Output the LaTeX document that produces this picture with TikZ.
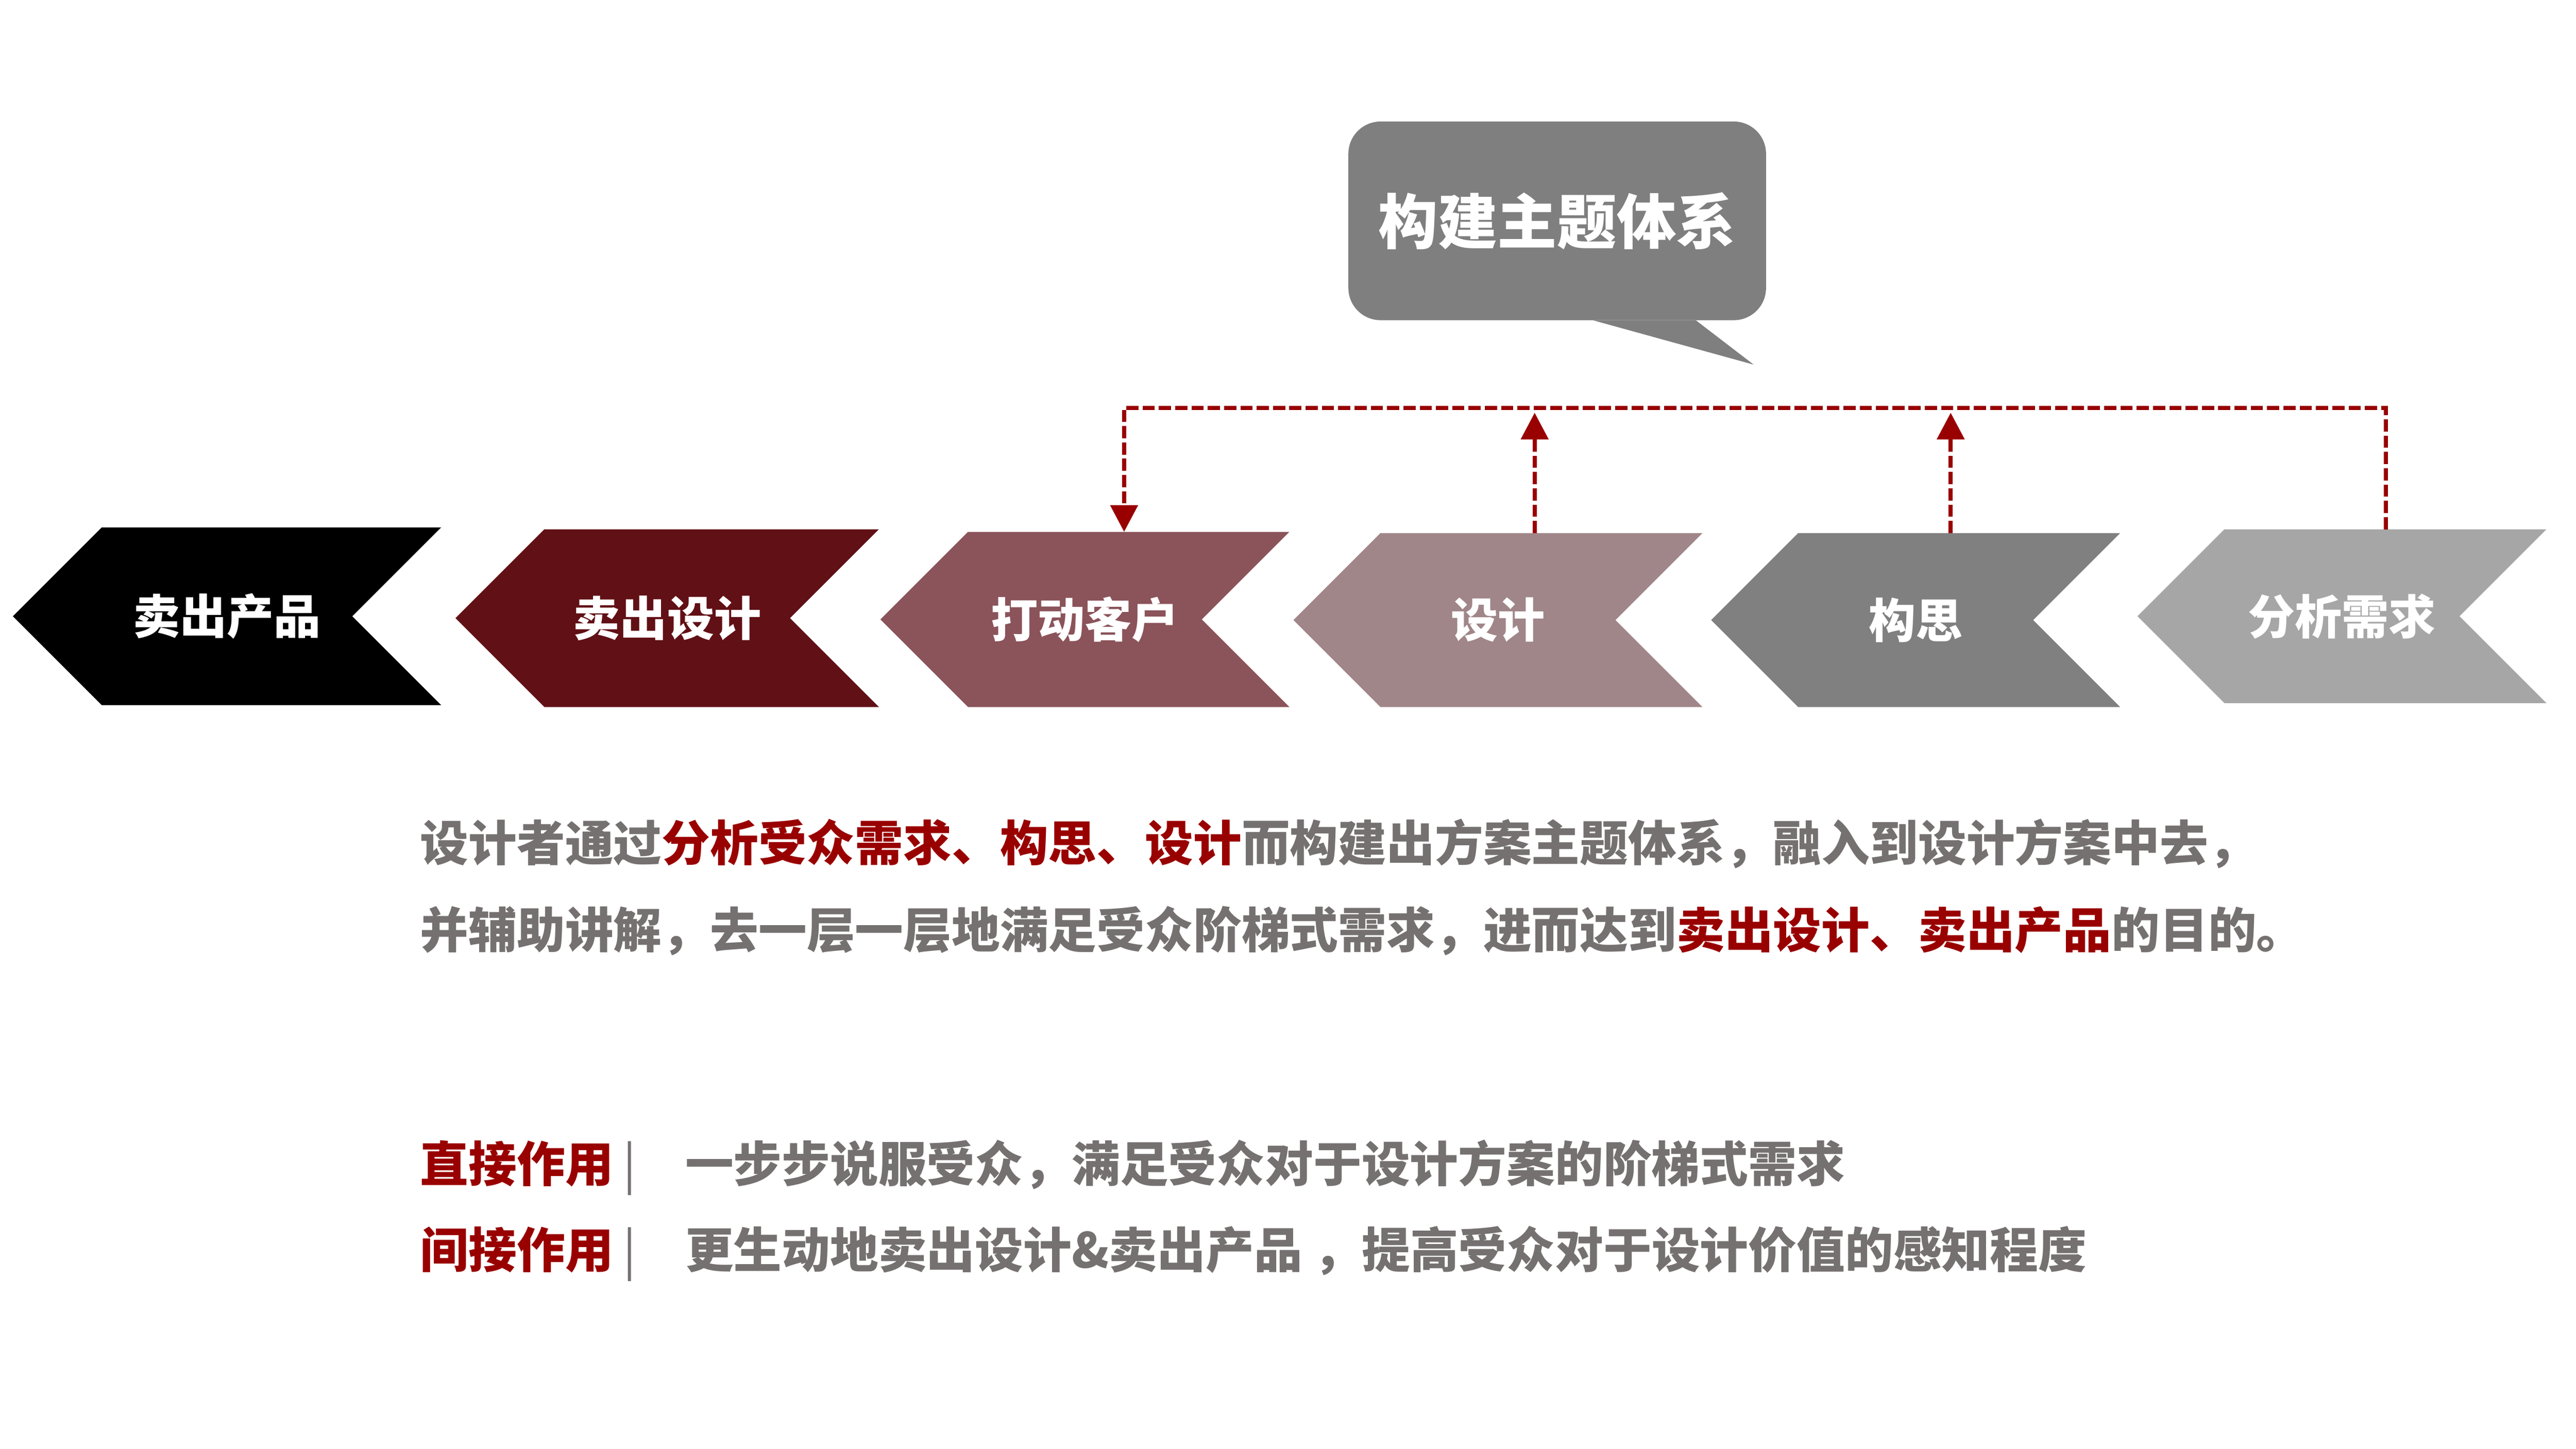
\documentclass[tikz,border=0pt]{standalone}
\usepackage{fontspec}
\setmainfont{Noto Sans CJK SC}
\usetikzlibrary{shapes.symbols,arrows.meta,positioning}

\definecolor{chevA}{HTML}{000000}
\definecolor{chevB}{HTML}{611015}
\definecolor{chevC}{HTML}{8B535A}
\definecolor{chevD}{HTML}{A08689}
\definecolor{chevE}{HTML}{808080}
\definecolor{chevF}{HTML}{A6A6A6}
\definecolor{bubblegray}{HTML}{7F7F7F}
\definecolor{txtgray}{HTML}{767171}
\definecolor{accent}{HTML}{990000}

\tikzset{
  chev/.style={signal, signal to=west, signal from=east, signal pointer angle=90,
    minimum width=12.7cm, minimum height=5.4cm, inner sep=0pt, outer sep=0pt,
    text=white, font=\fontsize{41.5}{48}\selectfont\bfseries},
  textline/.style={inner sep=0pt, outer sep=0pt, anchor=base west, text=txtgray,
    font=\fontsize{42.7}{50}\selectfont\bfseries},
  link/.style={accent, line width=3.6pt, dash pattern=on 10.8pt off 3.6pt},
  head/.style={-{Triangle[length=0.83cm,width=0.84cm]}},
}

\begin{document}
\begin{tikzpicture}
  \useasboundingbox (0,0) rectangle (80,-45);
  \fill[white] (0,0) rectangle (80,-45);
  % the six steps
  \node[chev, fill=chevA, minimum width=13.3cm, minimum height=5.52cm] (sellprod) at (7.05,-19.14) {卖出产品};
  \node[chev, fill=chevB, minimum width=13.15cm, minimum height=5.52cm] (selldes) at (20.72,-19.2) {卖出设计};
  \node[chev, fill=chevC, minimum height=5.44cm] (touch) at (33.69,-19.24) {打动客户};
  \node[chev, fill=chevD] (design) at (46.52,-19.26) {设计};
  \node[chev, fill=chevE] (concept) at (59.49,-19.26) {构思};
  \node[chev, fill=chevF] (analyse) at (72.73,-19.14) {分析需求};
  % speech bubble
  \node[fill=bubblegray, rounded corners=1cm, minimum width=12.97cm, minimum height=6.17cm,
    outer sep=0pt, text=white, font=\fontsize{52.6}{60}\selectfont\bfseries] (theme) at (48.36,-6.86) {构建主题体系};
  \fill[bubblegray] ([xshift=1.1cm]theme.south) -- ([xshift=4.3cm]theme.south)
    -- ([xshift=6.1cm,yshift=-1.38cm]theme.south) -- cycle;
  % top edges, where the links meet the steps
  \coordinate (touchtop) at ([xshift=1.22cm]touch.north);
  \coordinate (designtop) at ([xshift=1.14cm]design.north);
  \coordinate (concepttop) at ([xshift=1.09cm]concept.north);
  \coordinate (analysetop) at ([xshift=1.37cm]analyse.north);
  % dashed links
  \coordinate (busL) at (touchtop |- 0,-12.67);
  \coordinate (busR) at (analysetop |- 0,-12.67);
  \draw[link, head] (analysetop) -- (busR) -- (busL) -- (touchtop);
  \draw[link, head] (designtop) -- ([yshift=-0.15cm]designtop |- busL);
  \draw[link, head] (concepttop) -- ([yshift=-0.15cm]concepttop |- busL);
  % text below
  \node[textline] (para1) at (13.05,-26.75) {设计者通过\textcolor{accent}{分析受众需求、构思、设计}而构建出方案主题体系，融入到设计方案中去，};
  \node[textline] (para2) at (13.05,-29.45) {并辅助讲解，去一层一层地满足受众阶梯式需求，进而达到\textcolor{accent}{卖出设计、卖出产品}的目的。};
  \node[textline, text=accent] (direct) at (13.05,-36.71) {直接作用\kern0.2em\textcolor{txtgray}{\mdseries|}};
  \node[textline] (directtxt) at (21.28,-36.71) {一步步说服受众，满足受众对于设计方案的阶梯式需求};
  \node[textline, text=accent] (indirect) at (13.05,-39.38) {间接作用\kern0.2em\textcolor{txtgray}{\mdseries|}};
  \node[textline] (indirecttxt) at (21.28,-39.38) {更生动地卖出设计\&卖出产品 ，提高受众对于设计价值的感知程度};
\end{tikzpicture}
\end{document}
